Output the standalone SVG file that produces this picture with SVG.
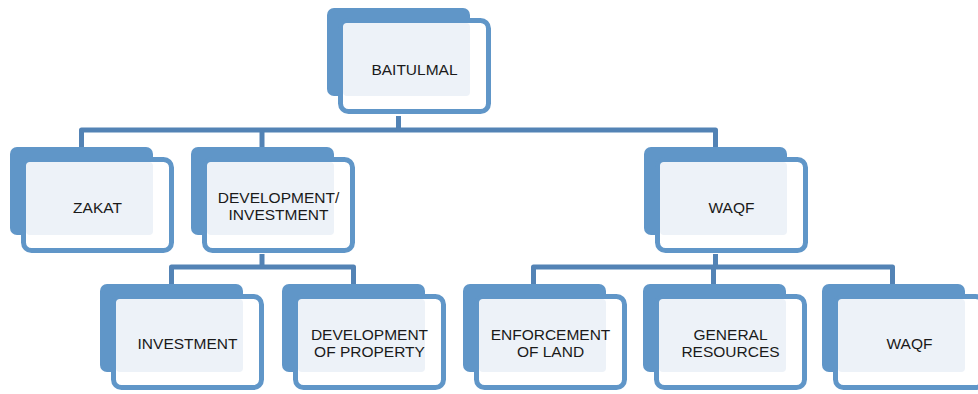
<svg xmlns="http://www.w3.org/2000/svg" width="978" height="394" viewBox="0 0 978 394">
<style>
.back{fill:#6096c8}
.front{fill:#ffffff;stroke:#6096c8;stroke-width:5}
.panel{fill:#edf2f8}
.lbl{font-family:"Liberation Sans",Arial,sans-serif;font-size:15.5px;fill:#1a1a1a;text-anchor:middle}
.conn{fill:none;stroke:#5383b5;stroke-width:5;stroke-linejoin:round;stroke-linecap:butt}
</style>
<defs>
<g id="box">
<rect class="back" x="0" y="0" width="143" height="88" rx="7"/>
<rect class="front" x="13.5" y="12.5" width="148" height="91" rx="8"/>
<rect class="panel" x="16" y="15" width="127" height="73" rx="4"/>
</g>
</defs>
<g id="connectors">
<path class="conn" d="M398.5,116 V130"/>
<path class="conn" d="M81.5,147 V130 H715.5 V147"/>
<path class="conn" d="M262,130 V147"/>
<path class="conn" d="M262,254 V267"/>
<path class="conn" d="M171.5,284 V267 H353.5 V284"/>
<path class="conn" d="M715.5,254 V267"/>
<path class="conn" d="M533.5,284 V267 H892.5 V284"/>
<path class="conn" d="M713.5,267 V284"/>
</g>
<g id="baitulmal">
<use href="#box" x="327" y="8"/>
<text class="lbl" x="414.5" y="75">BAITULMAL</text>
</g>
<g id="zakat">
<use href="#box" x="10" y="147"/>
<text class="lbl" x="97.5" y="213">ZAKAT</text>
</g>
<g id="dev-inv">
<use href="#box" x="191" y="147"/>
<text class="lbl" x="278.5" y="203">DEVELOPMENT/</text>
<text class="lbl" x="278.5" y="220">INVESTMENT</text>
</g>
<g id="waqf">
<use href="#box" x="644" y="147"/>
<text class="lbl" x="731.5" y="213">WAQF</text>
</g>
<g id="investment">
<use href="#box" x="100" y="284"/>
<text class="lbl" x="187.5" y="349">INVESTMENT</text>
</g>
<g id="dev-property">
<use href="#box" x="282" y="284"/>
<text class="lbl" x="369.5" y="340">DEVELOPMENT</text>
<text class="lbl" x="369.5" y="357">OF PROPERTY</text>
</g>
<g id="enforcement">
<use href="#box" x="463" y="284"/>
<text class="lbl" x="550.5" y="340">ENFORCEMENT</text>
<text class="lbl" x="550.5" y="357">OF LAND</text>
</g>
<g id="general">
<use href="#box" x="643" y="284"/>
<text class="lbl" x="730.5" y="340">GENERAL</text>
<text class="lbl" x="730.5" y="357">RESOURCES</text>
</g>
<g id="waqf2">
<use href="#box" x="822" y="284"/>
<text class="lbl" x="909.5" y="349">WAQF</text>
</g>
</svg>
